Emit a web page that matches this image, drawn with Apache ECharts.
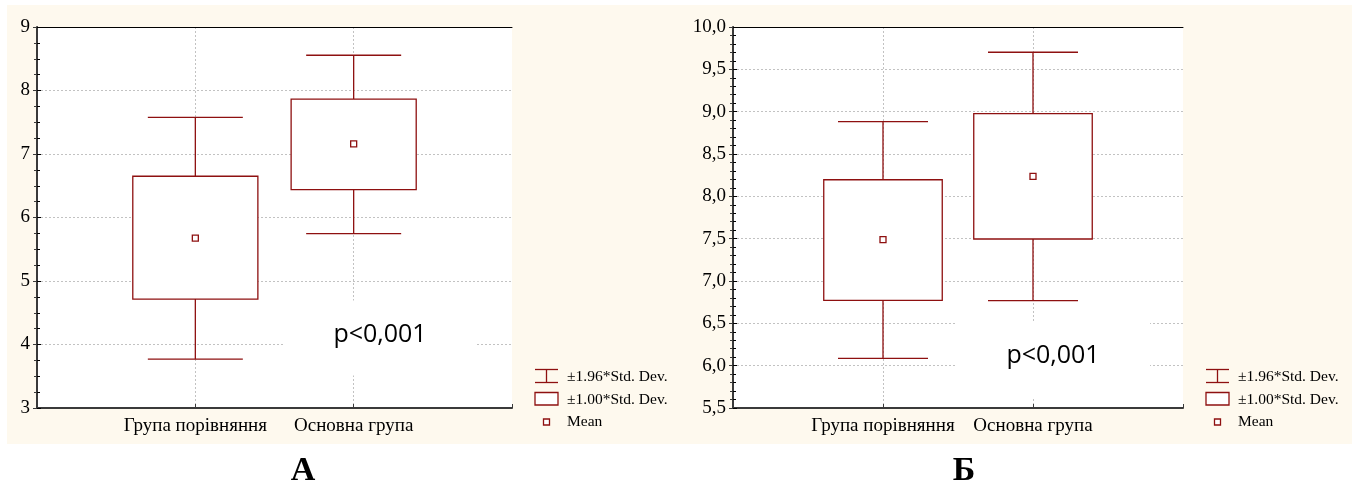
<!DOCTYPE html>
<html><head><meta charset="utf-8">
<script src="https://cdn.jsdelivr.net/npm/echarts@6/dist/echarts.min.js"></script>
<style>html,body{margin:0;padding:0;background:#fff}#c{width:1352px;height:487px}</style>
</head><body><div id="c"></div>
<script>
// ---- data ----
const categories = ['Група порівняння', 'Основна група'];

const meanA      = [5.675, 7.16];
const sd1LowA    = [4.715, 6.44];
const sd1HighA   = [6.65, 7.865];
const sd196LowA  = [3.77, 5.745];
const sd196HighA = [7.577, 8.555];

const meanB      = [7.488, 8.235];
const sd1LowB    = [6.772, 7.496];
const sd1HighB   = [8.196, 8.978];
const sd196LowB  = [6.085, 6.769];
const sd196HighB = [8.883, 9.702];

const yRangeA = [3, 9, 1];      // min, max, interval
const yRangeB = [5.5, 10, 0.5];
const legendLabels = ['±1.96*Std. Dev.', '±1.00*Std. Dev.', 'Mean'];
const pLabel = 'p<0,001';
const panelLabels = ['А', 'Б'];

// ---- styling ----
const RED = '#8e1010';
const SERIF = "'Liberation Serif', 'Times New Roman', serif";
const GRIDC = '#c2c2c2';
const BOX_W = 0.79, CAP_W = 0.6;

function rows(mean, l1, h1, l2, h2) {
  return categories.map((c, i) => [i + 1, l2[i], l1[i], mean[i], h1[i], h2[i]]);
}

function renderBox(params, api) {
  const x = api.value(0);
  const pm = api.coord([x, api.value(3)]);
  const yLW = api.coord([x, api.value(1)])[1];
  const yBL = api.coord([x, api.value(2)])[1];
  const yBH = api.coord([x, api.value(4)])[1];
  const yHW = api.coord([x, api.value(5)])[1];
  const half = api.size([BOX_W, 0])[0] / 2;
  const cap = api.size([CAP_W, 0])[0] / 2;
  const cx = pm[0];
  const ls = { stroke: RED, lineWidth: 1.3, fill: null };
  return { type: 'group', children: [
    { type: 'line', shape: { x1: cx, y1: yLW, x2: cx, y2: yBL }, style: ls },
    { type: 'line', shape: { x1: cx, y1: yBH, x2: cx, y2: yHW }, style: ls },
    { type: 'line', shape: { x1: cx - cap, y1: yLW, x2: cx + cap, y2: yLW }, style: ls },
    { type: 'line', shape: { x1: cx - cap, y1: yHW, x2: cx + cap, y2: yHW }, style: ls },
    { type: 'rect', shape: { x: cx - half, y: yBH, width: 2 * half, height: yBL - yBH },
      style: { fill: '#fff', stroke: RED, lineWidth: 1.3 } },
    { type: 'rect', shape: { x: cx - 3, y: pm[1] - 3, width: 6, height: 6 },
      style: { fill: '#fff', stroke: RED, lineWidth: 1.3 } }
  ]};
}

function splitColors(n) {
  const a = [];
  for (let i = 0; i < n; i++) a.push(i === 0 || i === n - 1 ? 'rgba(0,0,0,0)' : GRIDC);
  return a;
}

const xAxes = [], yAxes = [];
function addAxes(gi, yr, minorSplit, fmt) {
  const nx = categories.length + 2;
  xAxes.push({
    type: 'value', gridIndex: gi, position: 'bottom', min: 0, max: categories.length + 1, interval: 1,
    axisLine: { show: true, lineStyle: { color: '#3a3a3a', width: 2 } },
    axisTick: { show: true, inside: true, length: 4, lineStyle: { color: '#3a3a3a' } },
    axisLabel: { fontFamily: SERIF, fontSize: 19, color: '#000', margin: 9,
      formatter: v => (v >= 1 && v <= categories.length) ? categories[Math.round(v) - 1] : '' },
    splitLine: { show: true, lineStyle: { type: [2, 2], color: splitColors(nx), width: 1 } }
  });
  xAxes.push({
    type: 'value', gridIndex: gi, position: 'top', min: 0, max: categories.length + 1, interval: 1,
    axisLine: { show: true, lineStyle: { color: '#000', width: 1 } },
    axisTick: { show: false }, axisLabel: { show: false }, splitLine: { show: false }
  });
  const ny = Math.round((yr[1] - yr[0]) / yr[2]) + 1;
  yAxes.push({
    type: 'value', gridIndex: gi, position: 'left', min: yr[0], max: yr[1], interval: yr[2],
    axisLine: { show: true, lineStyle: { color: '#000', width: 1 } },
    axisTick: { show: true, inside: true, length: 4, lineStyle: { color: '#000' } },
    minorTick: { show: true, splitNumber: minorSplit, length: 3, lineStyle: { color: '#000' } },
    axisLabel: { fontFamily: SERIF, fontSize: 19, color: '#000', margin: 7, formatter: fmt },
    splitLine: { show: true, lineStyle: { type: [2, 2], color: splitColors(ny), width: 1 } }
  });
  yAxes.push({
    type: 'value', gridIndex: gi, position: 'right', min: yr[0], max: yr[1], interval: yr[2],
    axisLine: { show: true, lineStyle: { color: '#3a3a3a', width: 2 } },
    axisTick: { show: true, inside: true, length: 4, lineStyle: { color: '#3a3a3a' } },
    minorTick: { show: true, splitNumber: minorSplit, length: 3, lineStyle: { color: '#3a3a3a' } },
    axisLabel: { show: false }, splitLine: { show: false }
  });
}
addAxes(0, yRangeA, 4, v => String(v));
addAxes(1, yRangeB, 5, v => v.toFixed(1).replace('.', ','));

// legend + annotations as graphic elements
function legendGroup(x0) {
  const ls = { stroke: RED, lineWidth: 1.3, fill: null };
  const tf = '15.5px ' + SERIF;
  return [
    { type: 'line', shape: { x1: x0, y1: 369.5, x2: x0 + 23, y2: 369.5 }, style: ls, z: 5 },
    { type: 'line', shape: { x1: x0, y1: 382.5, x2: x0 + 23, y2: 382.5 }, style: ls, z: 5 },
    { type: 'line', shape: { x1: x0 + 11.5, y1: 369.5, x2: x0 + 11.5, y2: 382.5 }, style: ls, z: 5 },
    { type: 'rect', shape: { x: x0, y: 392.5, width: 23, height: 12.5 }, style: { fill: '#fff', stroke: RED, lineWidth: 1.3 }, z: 5 },
    { type: 'rect', shape: { x: x0 + 8.5, y: 419, width: 6, height: 6 }, style: { fill: '#fff', stroke: RED, lineWidth: 1.3 }, z: 5 },
    { type: 'text', x: x0 + 32, y: 376.5, style: { text: legendLabels[0], font: tf, fill: '#000', verticalAlign: 'middle' }, z: 5 },
    { type: 'text', x: x0 + 32, y: 399.5, style: { text: legendLabels[1], font: tf, fill: '#000', verticalAlign: 'middle' }, z: 5 },
    { type: 'text', x: x0 + 32, y: 422, style: { text: legendLabels[2], font: tf, fill: '#000', verticalAlign: 'middle' }, z: 5 }
  ];
}
function pGroup(cx, cy) {
  return [
    { type: 'rect', shape: { x: cx - 97, y: cy - 34, width: 194, height: 75 }, style: { fill: '#fff' }, z: 1 },
    { type: 'text', x: cx, y: cy, style: { text: pLabel, font: "25px 'Open Sans', sans-serif", fill: '#000', align: 'center', verticalAlign: 'middle' }, z: 5 }
  ];
}

const graphics = [
  { type: 'rect', shape: { x: 7, y: 5, width: 1345, height: 439 }, style: { fill: '#fef9ee' }, z: -10, silent: true }
].concat(legendGroup(535), legendGroup(1206), pGroup(380, 334.5), pGroup(1053, 356), [
  { type: 'text', x: 303, y: 471, style: { text: panelLabels[0], font: 'bold 34px ' + SERIF, fill: '#000', align: 'center', verticalAlign: 'middle' } },
  { type: 'text', x: 964, y: 471, style: { text: panelLabels[1], font: 'bold 34px ' + SERIF, fill: '#000', align: 'center', verticalAlign: 'middle' } }
]);

const chart = echarts.init(document.getElementById('c'), null, { renderer: 'canvas' });
chart.setOption({
  animation: false,
  backgroundColor: '#fff',
  grid: [
    { left: 37, top: 27, width: 475, height: 381, show: true, backgroundColor: '#fff', borderWidth: 0 },
    { left: 733, top: 27, width: 450, height: 381, show: true, backgroundColor: '#fff', borderWidth: 0 }
  ],
  xAxis: xAxes,
  yAxis: yAxes,
  graphic: graphics,
  series: [
    { type: 'custom', name: 'A', xAxisIndex: 0, yAxisIndex: 0, renderItem: renderBox,
      encode: { x: 0, y: [1, 2, 3, 4, 5] }, data: rows(meanA, sd1LowA, sd1HighA, sd196LowA, sd196HighA), z: 3 },
    { type: 'custom', name: 'Б', xAxisIndex: 2, yAxisIndex: 2, renderItem: renderBox,
      encode: { x: 0, y: [1, 2, 3, 4, 5] }, data: rows(meanB, sd1LowB, sd1HighB, sd196LowB, sd196HighB), z: 3 }
  ]
});
</script></body></html>
